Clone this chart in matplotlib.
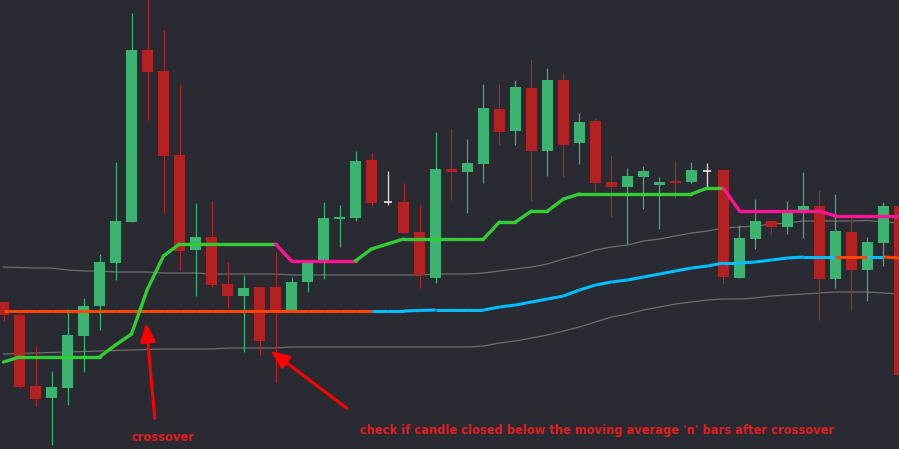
import numpy as np
import matplotlib
matplotlib.use('Agg')
import matplotlib.pyplot as plt
from matplotlib.collections import LineCollection

# candle data (price units, arbitrary)
opens = [147, 134, 63, 51, 61, 113, 143, 186, 227, 399, 378, 294, 199, 212, 165, 153, 162, 162, 139,
         167, 189, 230, 231, 289, 247, 247, 217, 171, 280, 277, 285, 340, 318, 361, 298, 369, 306, 328,
         267, 262, 272, 264, 268, 267, 278, 279, 171, 210, 228, 222, 239, 243, 170, 217, 179, 206, 243]
highs = [147, 136, 103, 78, 140, 151, 195, 287, 436, 455, 419, 364, 246, 248, 187, 174, 162, 197, 172,
         186, 247, 244, 298, 296, 278, 266, 244, 317, 320, 310, 365, 365, 369, 390, 381, 377, 336, 331,
         294, 281, 283, 272, 289, 287, 286, 280, 224, 250, 229, 248, 277, 259, 255, 231, 212, 247, 243]
lows = [128, 61, 43, 4, 44, 77, 119, 169, 227, 329, 236, 179, 153, 162, 141, 97, 94, 67, 139,
        157, 170, 202, 228, 243, 244, 216, 161, 166, 249, 236, 266, 304, 304, 248, 273, 272, 285, 257,
        232, 205, 240, 220, 251, 266, 262, 165, 171, 200, 215, 215, 211, 129, 161, 138, 148, 183, 60]
closes = [134, 62, 50, 62, 114, 143, 187, 228, 399, 377, 293, 198, 212, 164, 153, 161, 108, 139, 167,
          186, 231, 232, 288, 246, 247, 216, 174, 280, 277, 286, 341, 317, 362, 298, 369, 304, 327, 266,
          262, 273, 278, 267, 266, 279, 278, 172, 211, 228, 222, 236, 243, 170, 218, 179, 207, 243, 74]

# moving average and its envelope
ma = [138] * 26 + [138.5, 139, 139, 139, 139, 142, 144, 147, 150, 153, 159, 164, 167, 169, 172, 175,
                   178, 181, 183, 186, 186, 187, 189, 191, 192, 192, 192, 192, 192, 192, 191]
ma_up = [182, 181.5, 181, 181, 179, 178, 178, 177, 177, 177, 176, 176, 176, 175, 175, 175, 175, 175,
         174, 174, 174, 174, 174, 174, 174, 174, 174, 175, 175, 175, 176, 178, 180, 182, 185, 190, 194,
         199, 202, 204, 208, 210, 213, 216, 218, 221, 222, 223, 225, 226, 228, 228, 228, 228, 228.5, 227, 226]
ma_dn = [95, 95.5, 96, 96.5, 97, 97.5, 98, 98.5, 99, 99.5, 100, 100, 100, 100, 101, 101, 101, 101,
         102, 102, 102, 102, 102, 102, 102, 102, 102, 102, 102, 102, 103, 106, 108, 111, 114, 118, 122,
         127, 132, 135, 139, 142, 145, 147, 149, 150, 150, 151, 153, 154, 155, 156, 157, 157, 157, 156, 155]
ma_col = ['orange'] * 23 + ['blue'] * 29 + ['orange', 'orange', 'blue', 'orange']

# trailing line
trail = [87, 92, 92, 92, 92, 92, 92, 104, 115, 160, 193, 205, 205, 205, 205, 205, 205, 205, 188,
         188, 188, 188, 188, 200, 205, 210, 210, 210, 210, 210, 210, 227, 227, 238, 238, 250, 255, 255,
         255, 255, 255, 255, 255, 255, 261, 261, 238, 238, 238, 238, 238, 238, 233, 233, 233, 233, 233]
trail_col = ['up'] * 17 + ['dn'] * 5 + ['up'] * 23 + ['dn'] * 11

bg = '#292a32'
c_up = '#3cb371'
c_dn = '#b22222'
colmap = {'orange': '#ff4500', 'blue': '#00bfff', 'up': '#32cd32', 'dn': '#ff1493'}

x = np.arange(len(opens))
o = np.array(opens, float)
c = np.array(closes, float)

fig = plt.figure(figsize=(8.99, 4.49), dpi=100, facecolor=bg)
ax = fig.add_axes([0, 0, 1, 1])
ax.set_facecolor(bg)

# envelope
ax.plot(x, ma_up, color='#6e6e6e', lw=0.9, zorder=1)
ax.plot(x, ma_dn, color='#6e6e6e', lw=0.9, zorder=1)

# candles
cols = []
for i in range(len(x)):
    if o[i] == c[i]:
        cols.append('#e6e6e6')
    elif c[i] > o[i]:
        cols.append(c_up)
    else:
        cols.append(c_dn)
ax.vlines(x, lows, highs, colors=cols, lw=0.9, zorder=2)
body = np.abs(c - o)
real = body > 0
ax.bar(x[real], body[real], bottom=np.minimum(o, c)[real], width=0.69,
       color=np.array(cols)[real], zorder=3)
doji = ~real
ax.hlines(c[doji], x[doji] - 0.25, x[doji] + 0.25, colors='#e6e6e6', lw=1.2, zorder=3)

# moving average, coloured by segment
pts = np.column_stack([x, ma])
segs = np.stack([pts[:-1], pts[1:]], axis=1)
ax.add_collection(LineCollection(segs, colors=[colmap[k] for k in ma_col], lw=2.2, zorder=4,
                                 capstyle='butt'))
pts = np.column_stack([x, trail])
segs = np.stack([pts[:-1], pts[1:]], axis=1)
ax.add_collection(LineCollection(segs, colors=[colmap[k] for k in trail_col], lw=2.4, zorder=4,
                                 capstyle='round'))

# annotations
arr = dict(arrowstyle='-|>,head_length=1.1,head_width=0.45', color='#ff0000', lw=2.2)
ax.annotate('', xy=(8.9, 129), xytext=(9.47, 28), arrowprops=arr, zorder=5)
ax.annotate('', xy=(16.55, 100), xytext=(21.6, 39), arrowprops=arr, zorder=5)
fnt = dict(family='DejaVu Sans', fontsize=9.2, fontweight='bold',
           fontstretch='condensed', color='#e81c1c')
ax.text(9.97, 8, 'crossover', ha='center', va='baseline', **fnt)
ax.text(22.28, 15, "check if candle closed below the moving average 'n' bars after crossover",
        ha='left', va='baseline', **fnt)

ax.set_xlim(-0.22, 55.97)
ax.set_ylim(0, 449)
ax.axis('off')

fig.savefig('out.png', dpi=100, facecolor=bg)
